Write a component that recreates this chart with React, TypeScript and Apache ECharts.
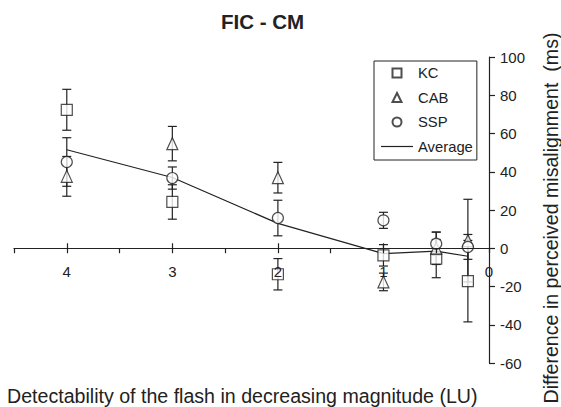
import { useEffect, useRef } from "react";
import * as echarts from "echarts";

// Flash detectability levels (LU), plotted from 4 down to 0
const levels = [4, 3, 2, 1, 0.5, 0.2];

// Mean differences in perceived misalignment (ms) and their error half-widths
const kcMean = [72.4, 24.2, -13.6, -3.7, -5.4, -17.2];
const kcErr = [10.7, 9, 8.2, 5.6, 10, 21.3];
const cabMean = [37.6, 54.7, 36.9, -17.6, 0, 4];
const cabErr = [10.4, 9, 8, 4.6, 8.5, 21.6];
const sspMean = [45.1, 36.7, 15.8, 14.6, 2.4, 0.7];
const sspErr = [12.7, 5.8, 9.3, 4.2, 6, 6.5];
const averageMean = [51.5, 37, 13, -2.8, -1.5, -4.2];

// Axis ticks
const xMajorTicks = [0, 1, 2, 3, 4];
const xUpperTicks = [1, 2, 3, 4];
const xAllTicks = [0, 0.5, 1, 1.5, 2, 2.5, 3, 3.5, 4, 4.5];
const xMax = 4.5;
const yMin = -60;
const yMax = 100;
const yStep = 20;

const FONT = "Liberation Sans, Arial, Helvetica, sans-serif";
const INK = "#222";

// Plot area
const GRID = { left: 14, right: 72, top: 57, bottom: 44 };
const HEIGHT = 407;
const plotHeight = HEIGHT - GRID.top - GRID.bottom;
const zeroY = GRID.top + (yMax / (yMax - yMin)) * plotHeight;

// Legend icons (path icons keep their aspect inside the legend slot)
const ICON_SQUARE = "path://M0,0H10V10H0Z";
const ICON_TRIANGLE = "path://M5,0L10,10H0Z";
const ICON_CIRCLE = "path://M5,0A5,5,0,1,1,5,10A5,5,0,1,1,5,0Z";
const ICON_LINE = "path://M0,0H32V1.2H0Z";

const points = (means: number[]) => levels.map((x, i) => [x, means[i]]);
const bars = (means: number[], errs: number[]) =>
  levels.map((x, i) => [x, means[i] - errs[i], means[i] + errs[i]]);

export default function App() {
  const ref = useRef<HTMLDivElement>(null);

  useEffect(() => {
    document.body.style.margin = "0";
    if (!ref.current) return;
    const chart = echarts.init(ref.current, undefined, { renderer: "svg" });

    const errorBars = [
      ...bars(kcMean, kcErr),
      ...bars(cabMean, cabErr),
      ...bars(sspMean, sspErr),
    ];

    const markerStyle = { color: "#fff", borderColor: INK, borderWidth: 1.2 };
    const tickLine = { color: INK, width: 1.2 };

    chart.setOption({
      animation: false,
      title: {
        text: "FIC - CM",
        left: 221,
        top: 11,
        padding: 0,
        textStyle: { fontFamily: FONT, fontSize: 20.5, fontWeight: "bold", color: INK, lineHeight: 21 },
      },
      grid: { ...GRID, containLabel: false, outerBoundsMode: "none" },
      legend: {
        orient: "vertical",
        left: 374,
        top: 61,
        padding: [4, 4, 5.5, 7],
        itemWidth: 32,
        itemHeight: 9,
        itemGap: 8.5,
        symbolKeepAspect: true,
        borderColor: INK,
        borderWidth: 1,
        borderRadius: 0,
        selectedMode: false,
        textStyle: { fontFamily: FONT, fontSize: 14.8, color: INK, lineHeight: 16 },
        data: [
          { name: "KC", icon: ICON_SQUARE },
          { name: "CAB", icon: ICON_TRIANGLE },
          { name: "SSP", icon: ICON_CIRCLE },
          { name: "Average", icon: ICON_LINE, itemStyle: { color: INK, borderWidth: 0 } },
        ],
      },
      xAxis: [
        {
          // main axis: line, downward ticks and labels at y = 0, drawn over the markers
          type: "value",
          z: 5,
          min: 0,
          max: xMax,
          inverse: true,
          position: "bottom",
          offset: -(HEIGHT - GRID.bottom - zeroY),
          axisLine: { onZero: false, lineStyle: tickLine },
          axisTick: { show: true, customValues: xAllTicks, length: 5, lineStyle: tickLine },
          axisLabel: {
            customValues: xMajorTicks,
            margin: 16,
            fontFamily: FONT,
            fontSize: 15,
            color: INK,
          },
          splitLine: { show: false },
        },
        {
          // upward half of the major ticks
          type: "value",
          z: 5,
          min: 0,
          max: xMax,
          inverse: true,
          position: "top",
          offset: -(zeroY - GRID.top),
          axisLine: { show: false, onZero: false },
          axisTick: { show: true, customValues: xUpperTicks, length: 5, lineStyle: tickLine },
          axisLabel: { show: false },
          splitLine: { show: false },
        },
      ],
      yAxis: {
        type: "value",
        position: "right",
        min: yMin,
        max: yMax,
        interval: yStep,
        axisLine: { show: true, onZero: false, lineStyle: tickLine },
        axisTick: { show: true, length: 6, lineStyle: tickLine },
        axisLabel: { margin: 11, fontFamily: FONT, fontSize: 15, color: INK },
        splitLine: { show: false },
      },
      graphic: [
        {
          type: "text",
          x: 7,
          y: 396,
          style: {
            text: "Detectability of the flash in decreasing magnitude (LU)",
            fontFamily: FONT,
            fontSize: 19.6,
            fill: INK,
            textAlign: "left",
            textVerticalAlign: "middle",
          },
        },
        {
          type: "text",
          x: 551,
          y: 218,
          rotation: Math.PI / 2,
          style: {
            text: "Difference in perceived misalignment  (ms)",
            fontFamily: FONT,
            fontSize: 19.6,
            fill: INK,
            textAlign: "center",
            textVerticalAlign: "middle",
          },
        },
      ],
      series: [
        {
          name: "errors",
          type: "custom",
          z: 1,
          data: errorBars,
          encode: { x: 0, y: [1, 2] },
          renderItem: (_params: any, api: any) => {
            const x = api.value(0);
            const top = api.coord([x, api.value(2)]);
            const bot = api.coord([x, api.value(1)]);
            const hw = 4.5;
            const style = { stroke: INK, lineWidth: 1.2 };
            return {
              type: "group",
              children: [
                { type: "line", shape: { x1: top[0], y1: top[1], x2: bot[0], y2: bot[1] }, style },
                { type: "line", shape: { x1: top[0] - hw, y1: top[1], x2: top[0] + hw, y2: top[1] }, style },
                { type: "line", shape: { x1: bot[0] - hw, y1: bot[1], x2: bot[0] + hw, y2: bot[1] }, style },
              ],
            };
          },
        },
        {
          name: "Average",
          type: "line",
          z: 2,
          data: points(averageMean),
          symbol: "none",
          lineStyle: { color: INK, width: 1.2 },
          itemStyle: { color: INK },
        },
        {
          name: "KC",
          type: "scatter",
          z: 3,
          symbol: "rect",
          symbolSize: 11,
          data: points(kcMean),
          itemStyle: markerStyle,
        },
        {
          name: "CAB",
          type: "scatter",
          z: 3,
          symbol: "triangle",
          symbolSize: [11, 12],
          data: points(cabMean),
          itemStyle: markerStyle,
        },
        {
          name: "SSP",
          type: "scatter",
          z: 3,
          symbol: "circle",
          symbolSize: 11,
          data: points(sspMean),
          itemStyle: markerStyle,
        },
      ],
    });

    return () => chart.dispose();
  }, []);

  return <div ref={ref} style={{ width: 561, height: 407 }} />;
}
